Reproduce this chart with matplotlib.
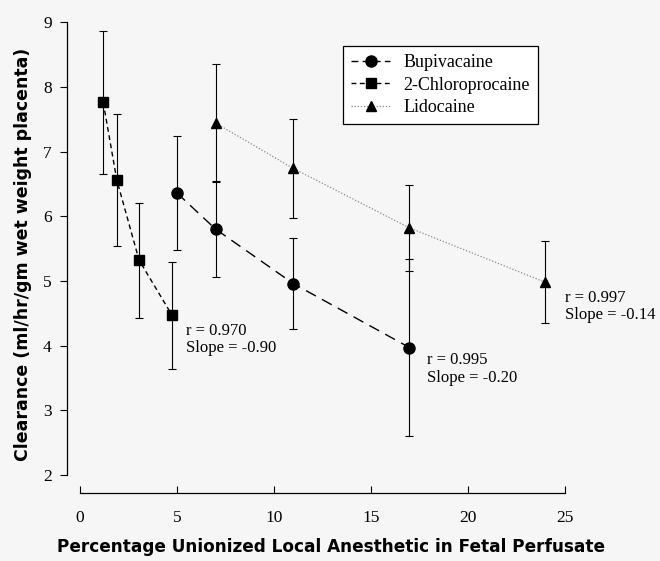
import matplotlib
matplotlib.use("Agg")
import matplotlib.pyplot as plt
from matplotlib.lines import Line2D

# percentage unionized local anesthetic vs clearance (mean +/- error)
bupi_x = [5.0, 7.0, 11.0, 17.0]
bupi_y = [6.36, 5.80, 4.96, 3.97]
bupi_err = [0.88, 0.74, 0.70, 1.37]

chloro_x = [1.2, 1.9, 3.05, 4.75]
chloro_y = [7.76, 6.56, 5.32, 4.47]
chloro_err = [1.10, 1.02, 0.89, 0.83]

lido_x = [7.0, 11.0, 17.0, 24.0]
lido_y = [7.44, 6.74, 5.82, 4.98]
lido_err = [0.91, 0.77, 0.66, 0.63]

notes = [
    (5.45, 4.09, "r = 0.970\nSlope = -0.90"),
    (17.9, 3.64, "r = 0.995\nSlope = -0.20"),
    (25.0, 4.60, "r = 0.997\nSlope = -0.14"),
]

serif = "Liberation Serif"
bg = "#f6f6f6"

fig = plt.figure(figsize=(6.6, 5.61), dpi=100, facecolor=bg)
ax = fig.add_axes([0.1015, 0.121, 0.842, 0.851])
ax.set_facecolor(bg)

eb = dict(elinewidth=0.8, capsize=3, capthick=0.8, ecolor="black")

ax.errorbar(bupi_x, bupi_y, yerr=bupi_err, color="black", marker="o",
            markersize=8, linestyle=(0, (8, 5)), linewidth=1.0, **eb)
ax.errorbar(chloro_x, chloro_y, yerr=chloro_err, color="black", marker="s",
            markersize=6.5, linestyle=(0, (3.5, 2.5)), linewidth=1.0, **eb)
# lidocaine: light dotted line, black markers
ax.errorbar(lido_x, lido_y, yerr=lido_err, color="#8a8a8a", marker="^",
            markersize=7.5, markerfacecolor="black", markeredgecolor="black",
            linestyle=(0, (1, 1.5)), linewidth=0.9, **eb)

for x, y, t in notes:
    ax.text(x, y, t, fontsize=12, family=serif, ha="left", va="center",
            linespacing=1.1)

ax.set_xlim(-0.67, 28)
ax.set_ylim(1.72, 9.1)
ax.set_xticks([0, 5, 10, 15, 20, 25])
ax.set_yticks([2, 3, 4, 5, 6, 7, 8, 9])
ax.spines["top"].set_visible(False)
ax.spines["right"].set_visible(False)
ax.spines["left"].set_bounds(2, 9)
ax.spines["bottom"].set_bounds(0, 25)
ax.spines["left"].set_linewidth(0.9)
ax.spines["bottom"].set_linewidth(0.9)
ax.tick_params(axis="y", direction="out", length=5, width=0.8, pad=6)
ax.tick_params(axis="x", direction="in", length=5, width=0.8, pad=12)
for lab in ax.get_xticklabels() + ax.get_yticklabels():
    lab.set_family(serif)
    lab.set_fontsize(12.5)

ax.set_xlabel("Percentage Unionized Local Anesthetic in Fetal Perfusate",
              fontsize=12.2, fontweight="bold", family="DejaVu Sans")
ax.xaxis.set_label_coords(0.475, -0.095)
ax.set_ylabel("Clearance (ml/hr/gm wet weight placenta)",
              fontsize=12.5, fontweight="bold", family="DejaVu Sans", labelpad=8)

handles = [
    Line2D([], [], color="black", marker="o", markersize=8,
           linestyle=(0, (5, 3)), linewidth=1.0),
    Line2D([], [], color="black", marker="s", markersize=6.5,
           linestyle=(0, (3.5, 2.5)), linewidth=1.0),
    Line2D([], [], color="#8a8a8a", marker="^", markersize=7.5,
           markerfacecolor="black", markeredgecolor="black",
           linestyle=(0, (1, 1.5)), linewidth=0.9),
]
labels = ["Bupivacaine", "2-Chloroprocaine", "Lidocaine"]
leg = ax.legend(handles, labels, loc="upper left",
                bbox_to_anchor=(0.496, 0.9365),
                prop={"family": serif, "size": 13}, frameon=True,
                fancybox=False, framealpha=1, edgecolor="black",
                handlelength=2.2, borderpad=0.45, labelspacing=0.3,
                handletextpad=0.7, borderaxespad=0)
leg.get_frame().set_facecolor("white")
leg.get_frame().set_linewidth(0.9)

fig.savefig("out.png", dpi=100, facecolor=fig.get_facecolor())
